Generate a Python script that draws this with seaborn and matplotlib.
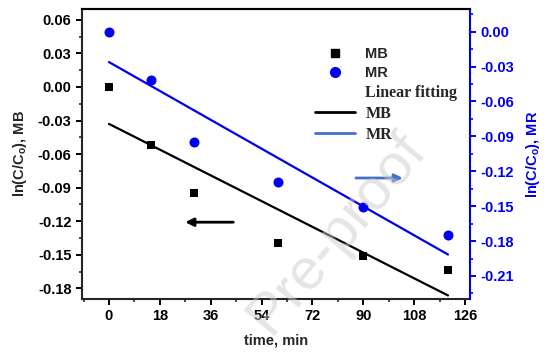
import numpy as np
import matplotlib
matplotlib.use("Agg")
import matplotlib.pyplot as plt
import seaborn as sns
from matplotlib.lines import Line2D
from matplotlib.legend_handler import HandlerLine2D
from matplotlib.ticker import AutoMinorLocator

# data
time_min = [0, 15, 30, 60, 90, 120]
ln_mb = [0.0, -0.052, -0.0947, -0.1394, -0.1513, -0.1633]
ln_mr = [0.0, -0.0415, -0.095, -0.129, -0.151, -0.1747]

x_ticks = [0, 18, 36, 54, 72, 90, 108, 126]
mb_ticks = [0.06, 0.03, 0.00, -0.03, -0.06, -0.09, -0.12, -0.15, -0.18]
mr_ticks = [0.00, -0.03, -0.06, -0.09, -0.12, -0.15, -0.18, -0.21]

blue = "#0000ee"
legend_blue = "#4472c4"

sns.set_style("ticks")
plt.rcParams["font.family"] = ["Liberation Sans", "DejaVu Sans"]
plt.rcParams["font.weight"] = "bold"
plt.rcParams["mathtext.fontset"] = "custom"
plt.rcParams["mathtext.rm"] = "Liberation Sans:bold"
plt.rcParams["mathtext.bf"] = "Liberation Sans:bold"

fig = plt.figure(figsize=(5.53, 3.56), dpi=100)
ax = fig.add_axes([0.148, 0.160, 0.702, 0.815])
ax2 = ax.twinx()

# MB on left axis
sns.scatterplot(x=time_min, y=ln_mb, marker="s", color="black", s=34,
                edgecolor="black", linewidth=0, ax=ax, zorder=3)
sns.regplot(x=time_min, y=ln_mb, ci=None, scatter=False, ax=ax,
            color="black", line_kws=dict(lw=1.6))

# MR on right axis
sns.scatterplot(x=time_min, y=ln_mr, marker="o", color=blue, s=52,
                edgecolor=blue, linewidth=0, ax=ax2, zorder=3)
sns.regplot(x=time_min, y=ln_mr, ci=None, scatter=False, ax=ax2,
            color=blue, line_kws=dict(lw=1.6))

ax.set_xlim(-9.6, 127.8)
ax.set_ylim(-0.1896, 0.0698)
ax2.set_ylim(-0.2298, 0.0195)

ax.set_xticks(x_ticks)
ax.set_xticklabels([str(t) for t in x_ticks])
ax.set_yticks(mb_ticks)
ax.set_yticklabels([f"{v:.2f}" for v in mb_ticks])
ax2.set_yticks(mr_ticks)
ax2.set_yticklabels([f"{v:.2f}" for v in mr_ticks])
ax.xaxis.set_minor_locator(AutoMinorLocator(2))
ax.yaxis.set_minor_locator(AutoMinorLocator(2))
ax2.yaxis.set_minor_locator(AutoMinorLocator(2))

ax.set_xlabel("time, min", fontsize=10.5, fontweight="bold", labelpad=7)
ax.set_ylabel(r"ln(C/C$_\mathrm{o}$), MB", fontsize=10.5, fontweight="bold", labelpad=6)
ax2.set_ylabel(r"ln(C/C$_\mathrm{o}$), MR", fontsize=10.5, fontweight="bold",
               color=blue, labelpad=7)

for a in (ax, ax2):
    for s in a.spines.values():
        s.set_linewidth(1.5)
ax.spines["right"].set_visible(False)
ax2.spines["left"].set_visible(False)
ax2.spines["bottom"].set_visible(False)
ax2.spines["top"].set_color("black")
ax2.spines["right"].set_color(blue)

ax.tick_params(axis="both", which="major", direction="out", length=4, width=1.4,
               labelsize=10.5, colors="black")
ax.tick_params(axis="both", which="minor", direction="out", length=2.5, width=1.2)
ax2.tick_params(axis="y", which="major", direction="out", length=4, width=1.4,
                labelsize=10.5, colors=blue)
ax2.tick_params(axis="y", which="minor", direction="out", length=2.5, width=1.2,
                colors=blue)
for lab in ax.get_xticklabels() + ax.get_yticklabels() + ax2.get_yticklabels():
    lab.set_fontweight("bold")

# arrows showing which axis each series belongs to
ax.annotate("", xy=(27, -0.1209), xytext=(44, -0.1209),
            arrowprops=dict(arrowstyle="-|>", color="black", lw=2,
                            mutation_scale=12, shrinkA=0, shrinkB=0))
ax2.annotate("", xy=(104, -0.1258), xytext=(87.4, -0.1258),
             arrowprops=dict(arrowstyle="-|>", color=legend_blue, lw=2,
                             mutation_scale=12, shrinkA=0, shrinkB=0))


class RightMarker(HandlerLine2D):
    def get_xdata(self, legend, xdescent, ydescent, width, height, fontsize):
        xd, xm = super().get_xdata(legend, xdescent, ydescent, width, height, fontsize)
        return xd, np.array([-xdescent + 0.9 * width])


handles = [
    Line2D([], [], marker="s", color="black", ls="none", markersize=6),
    Line2D([], [], marker="o", color=blue, ls="none", markersize=7),
    Line2D([], [], color="none"),
    Line2D([], [], color="black", lw=2),
    Line2D([], [], color=legend_blue, lw=2),
]
labels = ["MB", "MR", "Linear fitting", "MB", "MR"]
leg = ax.legend(handles, labels, loc="upper left",
                bbox_to_anchor=(315 / 553, 1 - 47 / 356),
                bbox_transform=fig.transFigure, frameon=False,
                borderpad=0, borderaxespad=0, handlelength=2.6,
                handletextpad=0.7, labelspacing=0.32, fontsize=11,
                handler_map={handles[0]: RightMarker(), handles[1]: RightMarker()})
for i, t in enumerate(leg.get_texts()):
    if i < 2:
        t.set_fontfamily(["Liberation Sans", "DejaVu Sans"])
        t.set_fontsize(10.5)
    else:
        t.set_fontfamily(["Liberation Serif", "DejaVu Serif"])
        t.set_fontsize(11.5)
    t.set_fontweight("bold")

# watermark
fig.text(0.61, 0.345, "Pre-proof", fontsize=42, color="#cccccc", alpha=0.5,
         rotation=50, ha="center", va="center", fontweight="normal",
         family=["Liberation Sans", "DejaVu Sans"], zorder=10)

fig.savefig("out.png", dpi=100)
